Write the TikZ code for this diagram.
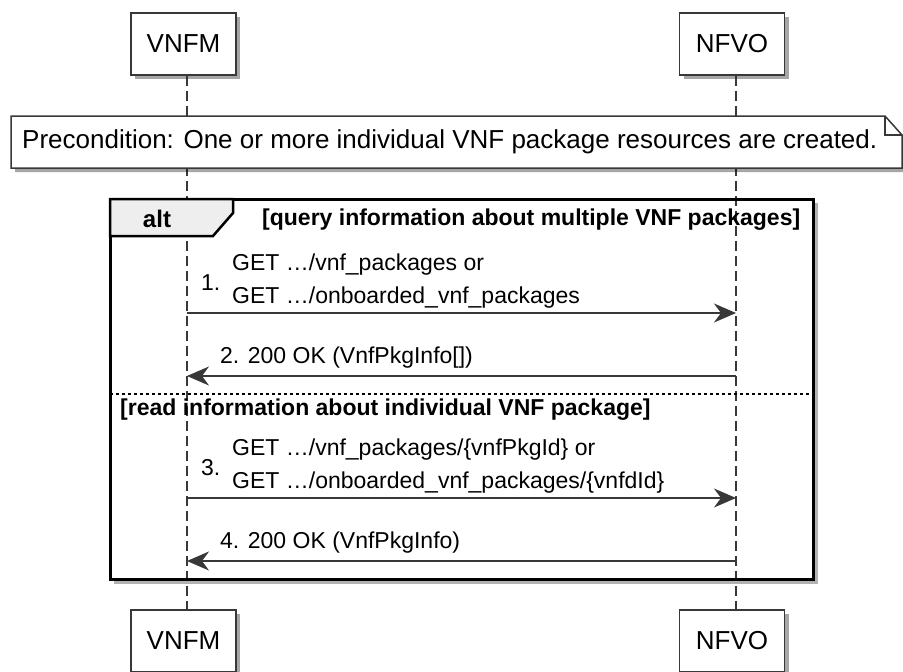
\documentclass[tikz,border=0pt]{standalone}
\usepackage{fontspec}
\setmainfont{Liberation Sans}
\usepackage{xcolor}
\usetikzlibrary{arrows.meta,positioning,shadows}
\definecolor{umlline}{HTML}{383838}
\definecolor{tabgray}{HTML}{EEEEEE}

\begin{document}
\begin{tikzpicture}[x=1pt, y=-1pt,
  >={Stealth[length=22pt, width=19pt, inset=7pt]},
  shadowed/.style={drop shadow={shadow xshift=4pt, shadow yshift=-4pt,
    opacity=0.35, fill=black}},
  actor/.style={draw=umlline, line width=1.5pt, fill=white, shadowed,
    minimum width=105pt, minimum height=62pt, inner sep=0pt,
    font=\fontsize{26}{30}\selectfont},
  lifeline/.style={draw=umlline, line width=1.5pt, dash pattern=on 10pt off 5pt},
  msg/.style={draw=umlline, line width=1.5pt, ->},
  msgtext/.style={anchor=west, align=left, inner sep=0pt,
    font=\fontsize{23}{33}\selectfont},
  guard/.style={anchor=west, inner sep=0pt, font=\fontsize{23}{27}\bfseries\selectfont}
]
  \useasboundingbox (0,0) rectangle (903,672);

  % participants
  \node[actor] (vnfmTop) at (183.5,44) {VNFM};
  \node[actor] (nfvoTop) at (732,44) {NFVO};
  \node[actor] (vnfmBot) at (183.5,641) {VNFM};
  \node[actor] (nfvoBot) at (732,641) {NFVO};
  \coordinate (vx) at (187,0);
  \coordinate (nx) at (736,0);

  % lifelines
  \path[lifeline] (vnfmTop.south -| vx) -- (vnfmBot.north -| vx);
  \path[lifeline] (nfvoTop.south -| nx) -- (nfvoBot.north -| nx);

  % precondition note
  \path[draw=umlline, line width=1.5pt, fill=white, shadowed]
    (11,116) -- (885,116) -- (902,135) -- (902,168) -- (11,168) -- cycle;
  \draw[umlline, line width=1.5pt] (885,116) -- (885,135) -- (902,135);
  \node[anchor=west, inner sep=0pt, font=\fontsize{26}{30}\selectfont] (pre) at (22,142)
    {Precondition: One or more individual VNF package resources are created.};

  % alt frame
  \draw[black!30, line width=4pt] (816,203) -- (816,582) -- (114,582);
  \draw[black, line width=3pt] (110,199) rectangle (813,579);
  \draw[black, line width=2.5pt, fill=tabgray]
    (110,199) -- (233,199) -- (233,213) -- (213,236) -- (110,236) -- cycle;
  \node[font=\fontsize{24}{28}\bfseries\selectfont] (alt) at (157,219) {alt};
  \node[guard] (g1) at (262,220) {[query information about multiple VNF packages]};
  \draw[black, line width=1.5pt, dash pattern=on 3pt off 3pt] (110,394) -- (813,394);
  \node[guard] (g2) at (120,410) {[read information about individual VNF package]};

  % messages
  \coordinate (v1) at (187,313); \coordinate (n1) at (736,313);
  \coordinate (v2) at (187,376); \coordinate (n2) at (736,376);
  \coordinate (v3) at (187,498); \coordinate (n3) at (736,498);
  \coordinate (v4) at (187,561); \coordinate (n4) at (736,561);

  \node[msgtext] (m1n) at (201,283) {1.};
  \node[msgtext] (m1) at (232,281.5) {GET …/vnf\_packages or\\GET …/onboarded\_vnf\_packages};
  \path[msg] (v1) -- (n1);
  \node[msgtext] (m2) at (220,358) {2. 200 OK (VnfPkgInfo[])};
  \path[msg] (n2) -- (v2);
  \node[msgtext] (m3n) at (201,468) {3.};
  \node[msgtext] (m3) at (232,466.5)
    {GET …/vnf\_packages/\{vnfPkgId\} or\\GET …/onboarded\_vnf\_packages/\{vnfdId\}};
  \path[msg] (v3) -- (n3);
  \node[msgtext] (m4) at (220,543) {4. 200 OK (VnfPkgInfo)};
  \path[msg] (n4) -- (v4);
\end{tikzpicture}
\end{document}
